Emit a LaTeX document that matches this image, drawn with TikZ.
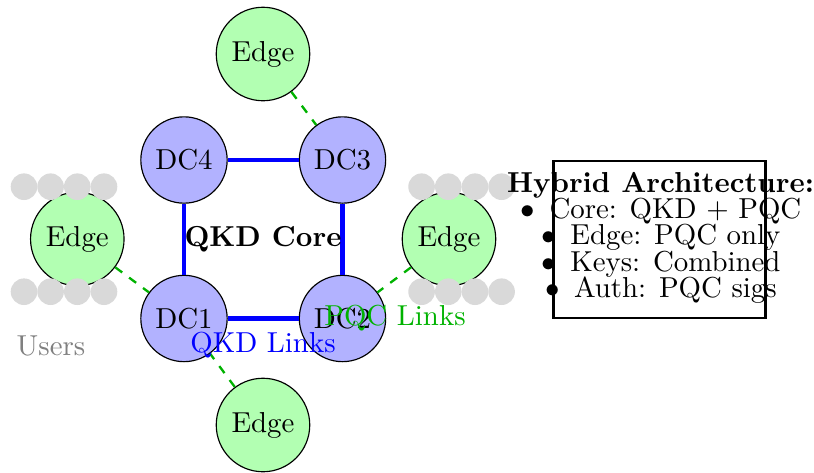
\documentclass[tikz,border=0pt]{standalone}
\begin{document}
\begin{tikzpicture}[x=0.01217cm, y=-0.01217cm,
  dc/.style={circle, draw=black, fill=blue!30, minimum size=1.047cm},
  edgenode/.style={circle, draw=black, fill=green!30, minimum size=1.047cm},
  qkd/.style={draw=blue, line width=1.6pt},
  pqc/.style={draw=green!70!black, thick, dashed},
  user/.style={fill=gray!30},
  infoline/.style={anchor=base}]
  \useasboundingbox (0,0) rectangle (814,473);

  % data-centre ring
  \node[dc] (dc1) at (184,318.5) {DC1};
  \node[dc] (dc2) at (342.5,318.5) {DC2};
  \node[dc] (dc3) at (342.5,160) {DC3};
  \node[dc] (dc4) at (184,160) {DC4};

  % edge sites
  \node[edgenode] (etop)    at (263,54)   {Edge};
  \node[edgenode] (eright)  at (449,239)  {Edge};
  \node[edgenode] (ebottom) at (263,425)  {Edge};
  \node[edgenode] (eleft)   at (77.3,239) {Edge};

  % QKD core links
  \draw[qkd] (dc1) -- (dc2);
  \draw[qkd] (dc2) -- (dc3);
  \draw[qkd] (dc3) -- (dc4);
  \draw[qkd] (dc4) -- (dc1);

  % PQC access links
  \draw[pqc] (etop) -- (dc3);
  \draw[pqc] (eright) -- (dc2);
  \draw[pqc] (ebottom) -- (dc1);
  \draw[pqc] (eleft) -- (dc1);

  % user devices around the side edges
  \foreach \dx in {-53.3,-26.7,0,26.7} {
    \fill[user] (77.3+\dx,186.7) circle[radius=0.162cm];
    \fill[user] (77.3+\dx,291.7) circle[radius=0.162cm];
  }
  \foreach \dx in {-26.7,0,26.7,53.3} {
    \fill[user] (448.3+\dx,186.7) circle[radius=0.162cm];
    \fill[user] (448.3+\dx,291.7) circle[radius=0.162cm];
  }

  % labels
  \node[font=\bfseries] (corelbl) at (263,239) {QKD Core};
  \node[text=blue] (qkdlbl) at (263,345) {QKD Links};
  \node[text=green!70!black] (pqclbl) at (395,318) {PQC Links};
  \node[text=gray] (userslbl) at (51,346) {Users};

  % architecture summary
  \node[draw=black, thick, minimum width=2.585cm, minimum height=1.918cm] (infobox) at (659.5,239.5) {};
  \node[infoline, font=\bfseries] (info0) at (660.5,192.7) {Hybrid Architecture:};
  \node[infoline] (info1) at (661,218.8) {$\bullet$\hspace{5pt}Core: QKD + PQC};
  \node[infoline] (info2) at (661,244.9) {$\bullet$\hspace{5pt}Edge: PQC only};
  \node[infoline] (info3) at (661,271.0) {$\bullet$\hspace{5pt}Keys: Combined};
  \node[infoline] (info4) at (661,297.1) {$\bullet$\hspace{5pt}Auth: PQC sigs};
\end{tikzpicture}
\end{document}
